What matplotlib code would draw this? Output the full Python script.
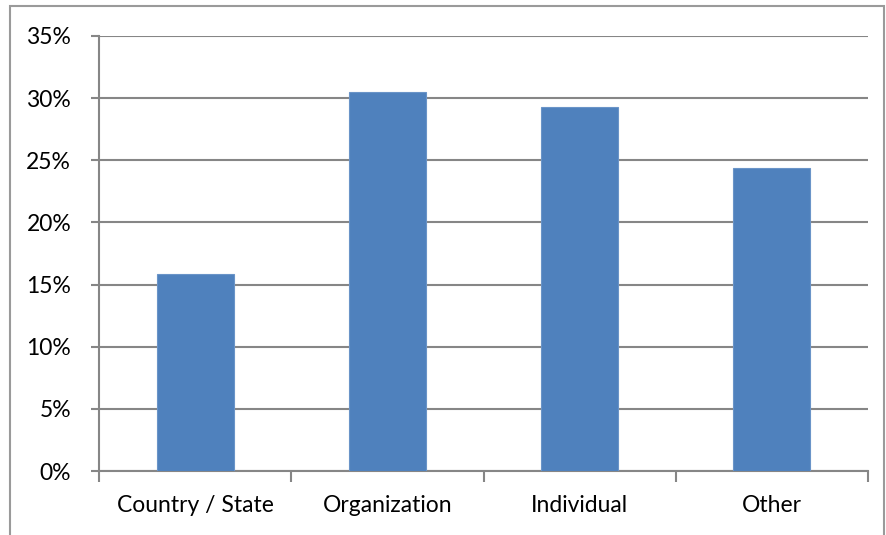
import matplotlib.pyplot as plt
from matplotlib.patches import Rectangle
from matplotlib.ticker import FixedLocator, PercentFormatter

categories = ["Country / State", "Organization", "Individual", "Other"]
shares = [15.85, 30.48, 29.27, 24.38]
yticks = [0, 5, 10, 15, 20, 25, 30, 35]

plt.rcParams['font.family'] = ['Lato', 'DejaVu Sans']

fig = plt.figure(figsize=(8.86, 5.35), dpi=100)
ax = fig.add_axes([99/886, 1 - 471/535, 769/886, 435/535])

grid = "#868686"
x = range(len(categories))
ax.bar(x, shares, width=0.4, color="#4F81BD", edgecolor="#6A94C8", linewidth=0.8, zorder=3)

ax.set_xlim(-0.5, len(categories) - 0.5)
ax.set_ylim(0, 35)
ax.set_yticks(yticks)
ax.yaxis.set_major_formatter(PercentFormatter(decimals=0))
ax.yaxis.grid(True, color=grid, linewidth=1.5, zorder=0)

ax.set_xticks(list(x))
ax.set_xticklabels(categories)
ax.xaxis.set_minor_locator(FixedLocator([i - 0.5 for i in range(len(categories) + 1)]))
ax.tick_params(axis="x", which="major", length=0, pad=17, labelsize=16.5)
ax.tick_params(axis="x", which="minor", length=8, width=1.5, color=grid, direction="out")
ax.tick_params(axis="y", length=6, width=1.5, color=grid, pad=14, labelsize=16.5)

for side in ["top", "right"]:
    ax.spines[side].set_visible(False)
for side in ["left", "bottom"]:
    ax.spines[side].set_color(grid)
    ax.spines[side].set_linewidth(1.5)

# outer chart frame
fig.patches.append(Rectangle((10/886, -0.05), 874/886, 1.05 - 6/535, transform=fig.transFigure,
                             fill=False, edgecolor="#9a9a9a", linewidth=1.5))

fig.savefig("out.png", dpi=100)
